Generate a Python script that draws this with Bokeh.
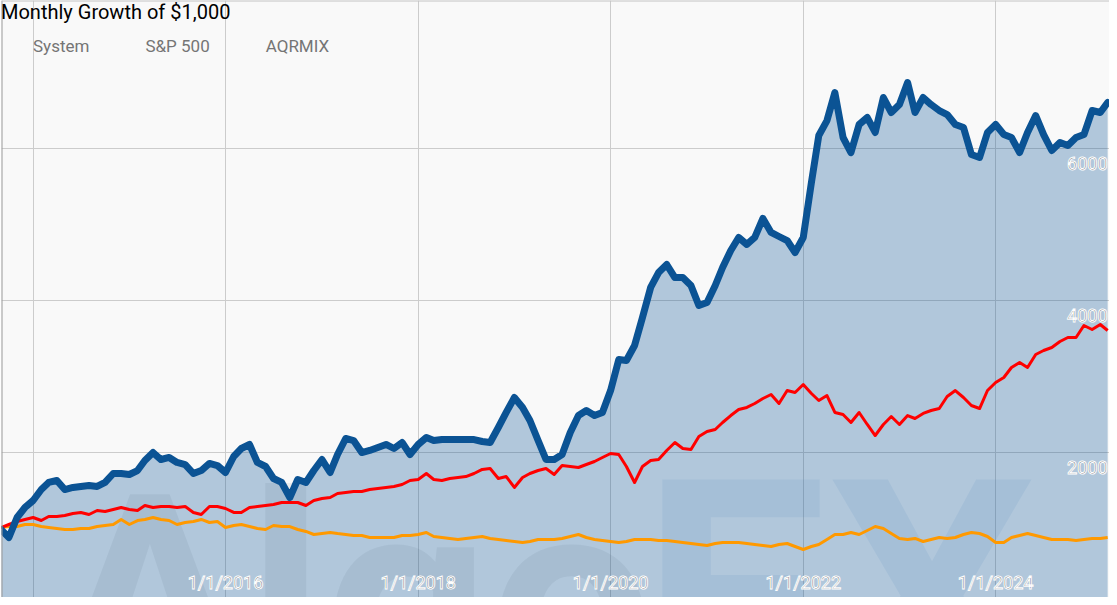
import datetime as dt
from bokeh.plotting import figure
from bokeh.models import (ColumnDataSource, Grid, FixedTicker, Legend, LegendItem,
                          Span, Range1d, Label)
from bokeh.core.properties import value
from bokeh.embed import file_html
from bokeh.resources import INLINE

# ---------------- data (monthly, starting Sep 2013) ----------------
system = [987, 882, 1145, 1277, 1369, 1513, 1606, 1632, 1513, 1540,
          1553, 1566, 1553, 1606, 1724, 1724, 1711, 1763, 1895, 2000,
          1908, 1935, 1869, 1842, 1724, 1763, 1856, 1829, 1737, 1948,
          2053, 2106, 1869, 1816, 1658, 1606, 1408, 1645, 1606, 1763,
          1908, 1737, 1974, 2185, 2158, 2000, 2027, 2066, 2106, 2053,
          2132, 1974, 2106, 2198, 2158, 2171, 2171, 2171, 2171, 2171,
          2145, 2132, 2329, 2527, 2724, 2593, 2421, 2158, 1908, 1908,
          1974, 2264, 2487, 2553, 2487, 2527, 2816, 3224, 3211, 3408,
          3777, 4172, 4369, 4474, 4303, 4303, 4198, 3935, 3974, 4198,
          4435, 4659, 4830, 4738, 4830, 5080, 4896, 4843, 4790, 4632,
          4830, 5554, 6172, 6369, 6738, 6146, 5948, 6317, 6409, 6212,
          6672, 6475, 6580, 6870, 6475, 6672, 6580, 6501, 6448, 6317,
          6277, 5922, 5883, 6212, 6317, 6185, 6146, 5948, 6212, 6435,
          6185, 5975, 6080, 6040, 6146, 6185, 6501, 6475, 6606]

sp500 = [1013, 1053, 1092, 1119, 1145, 1105, 1158, 1158, 1171, 1198,
         1211, 1184, 1237, 1224, 1250, 1277, 1250, 1237, 1303, 1277,
         1290, 1290, 1277, 1290, 1211, 1184, 1290, 1290, 1263, 1211,
         1211, 1277, 1290, 1303, 1316, 1342, 1342, 1342, 1303, 1369,
         1395, 1408, 1461, 1474, 1487, 1487, 1513, 1527, 1540, 1553,
         1579, 1632, 1645, 1724, 1645, 1632, 1658, 1671, 1684, 1724,
         1777, 1790, 1658, 1684, 1540, 1671, 1724, 1763, 1790, 1711,
         1829, 1816, 1803, 1842, 1882, 1935, 1987, 1974, 1816, 1606,
         1816, 1895, 1908, 2027, 2132, 2053, 2040, 2211, 2277, 2303,
         2395, 2487, 2566, 2593, 2645, 2711, 2764, 2645, 2816, 2790,
         2895, 2777, 2685, 2750, 2527, 2500, 2395, 2527, 2369, 2224,
         2369, 2474, 2369, 2487, 2448, 2514, 2553, 2579, 2737, 2816,
         2724, 2619, 2579, 2816, 2922, 2987, 3119, 3185, 3119, 3290,
         3343, 3382, 3461, 3514, 3514, 3672, 3619, 3685, 3606]

aqrmix = [1013, 1026, 1026, 1053, 1053, 1026, 1013, 1000, 987, 987,
          1000, 1000, 1026, 1040, 1053, 1119, 1053, 1105, 1119, 1145,
          1119, 1105, 1053, 1079, 1092, 1119, 1079, 1092, 1013, 1040,
          1053, 1026, 1000, 987, 1040, 1026, 1026, 987, 961, 921,
          934, 948, 934, 921, 908, 908, 882, 882, 882, 882,
          908, 908, 921, 948, 895, 882, 869, 855, 869, 882,
          895, 869, 855, 842, 829, 816, 829, 855, 855, 855,
          869, 895, 921, 882, 855, 842, 829, 816, 829, 855,
          855, 855, 842, 842, 829, 816, 803, 790, 776, 803,
          816, 816, 816, 803, 790, 776, 763, 790, 803, 763,
          724, 763, 790, 855, 921, 921, 948, 921, 974, 1026,
          1000, 934, 869, 855, 869, 829, 855, 882, 869, 882,
          921, 948, 934, 895, 816, 816, 882, 908, 934, 908,
          882, 855, 855, 855, 842, 855, 869, 869, 882]

series_names = ["System", "S&P 500", "AQRMIX"]
x_tick_years = [2014, 2016, 2018, 2020, 2022, 2024]
x_label_years = [2016, 2018, 2020, 2022, 2024]
x_labels = ["1/1/2016", "1/1/2018", "1/1/2020", "1/1/2022", "1/1/2024"]
y_ticks = [2000, 4000, 6000]
y_labels = ["2000", "4000", "6000"]

dates = [dt.datetime(2013 + (8 + i) // 12, (8 + i) % 12 + 1, 1) for i in range(len(system))]

# ---------------- figure ----------------
x_start, x_end = dt.datetime(2013, 9, 3), dt.datetime(2025, 3, 8)
y_start, y_end = 92, 7949
BG = "#f9f9f9"
FONT = "Roboto"

p = figure(width=1109, height=597, output_backend="svg", toolbar_location=None,
           x_axis_location=None, y_axis_location=None,
           x_range=Range1d(x_start, x_end), y_range=Range1d(y_start, y_end),
           min_border=0, min_border_left=1,
           background_fill_color=BG, border_fill_color=BG)
p.outline_line_color = None
p.grid.visible = False

def ms(d):
    return (d - dt.datetime(1970, 1, 1)).total_seconds() * 1000.0

xg = Grid(dimension=0, ticker=FixedTicker(ticks=[ms(dt.datetime(y, 1, 1)) for y in x_tick_years]),
          grid_line_color="#cccccc", grid_line_width=1)
yg = Grid(dimension=1, ticker=FixedTicker(ticks=y_ticks),
          grid_line_color="#cccccc", grid_line_width=1)
p.add_layout(xg)
p.add_layout(yg)

# watermark (background logo)
p.add_layout(Label(x=51, y=-4, x_units="screen", y_units="screen", text="Algo",
                   text_font=FONT, text_font_style="bold", text_font_size="290px",
                   text_color="#000000", text_alpha=0.055, text_baseline="alphabetic",
                   level="underlay"))
p.add_layout(Label(x=640, y=-4, x_units="screen", y_units="screen", text="EX",
                   text_font=FONT, text_font_style="bold", text_font_size="330px",
                   text_color="#3d85c6", text_alpha=0.09, text_baseline="alphabetic",
                   level="underlay"))

src = ColumnDataSource(dict(date=dates, system=system, sp500=sp500, aqrmix=aqrmix))

C_SYS, C_SP, C_AQ = "#0b5394", "#ff0000", "#ff9900"

p.varea(x="date", y1=0, y2="system", source=src, fill_color=C_SYS, fill_alpha=0.3)
p.line("date", "aqrmix", source=src, line_color=C_AQ, line_width=3, line_join="round")
p.line("date", "sp500", source=src, line_color=C_SP, line_width=3, line_join="round")
p.line("date", "system", source=src, line_color=C_SYS, line_width=7, line_join="round",
       line_cap="round")

# frame borders (left and top)
p.add_layout(Span(location=ms(x_start), dimension="height", line_color="#999999", line_width=2))
p.add_layout(Span(location=y_end, dimension="width", line_color="#c4c4c4", line_width=2))

# in-chart axis labels
lab_src = ColumnDataSource(dict(x=[dt.datetime(y, 1, 1) for y in x_label_years],
                                y=[y_start] * len(x_labels), t=x_labels))
p.text(x="x", y="y", text="t", source=lab_src, text_align="center", text_baseline="middle",
       y_offset=-15, text_font=value(FONT), text_font_size="18px", text_color="#666666",
       text_outline_color="white")
ylab_src = ColumnDataSource(dict(x=[x_end] * len(y_labels), y=y_ticks, t=y_labels))
p.text(x="x", y="y", text="t", source=ylab_src, text_align="right", text_baseline="middle",
       x_offset=-2, y_offset=15, text_font=value(FONT), text_font_size="18px", text_color="#666666",
       text_outline_color="white")

# legend with square swatches
sw = []
for c in (C_SYS, C_SP, C_AQ):
    sw.append(p.rect(x=[], y=[], width=[], height=[], fill_color=c, line_color=None))
legend = Legend(items=[LegendItem(label=n, renderers=[r]) for n, r in zip(series_names, sw)],
                location="top_left", orientation="horizontal",
                title="Monthly Growth of $1,000", title_text_font=FONT,
                title_text_font_size="20px", title_text_font_style="normal",
                title_text_color="#000000", title_standoff=10,
                label_text_font=FONT, label_text_font_size="17px", label_text_color="#757575",
                glyph_width=23, glyph_height=23, label_standoff=9, spacing=24,
                margin=0, padding=4, background_fill_alpha=0, border_line_color=None)
p.add_layout(legend)

open("out.html", "w").write(file_html(p, INLINE))
